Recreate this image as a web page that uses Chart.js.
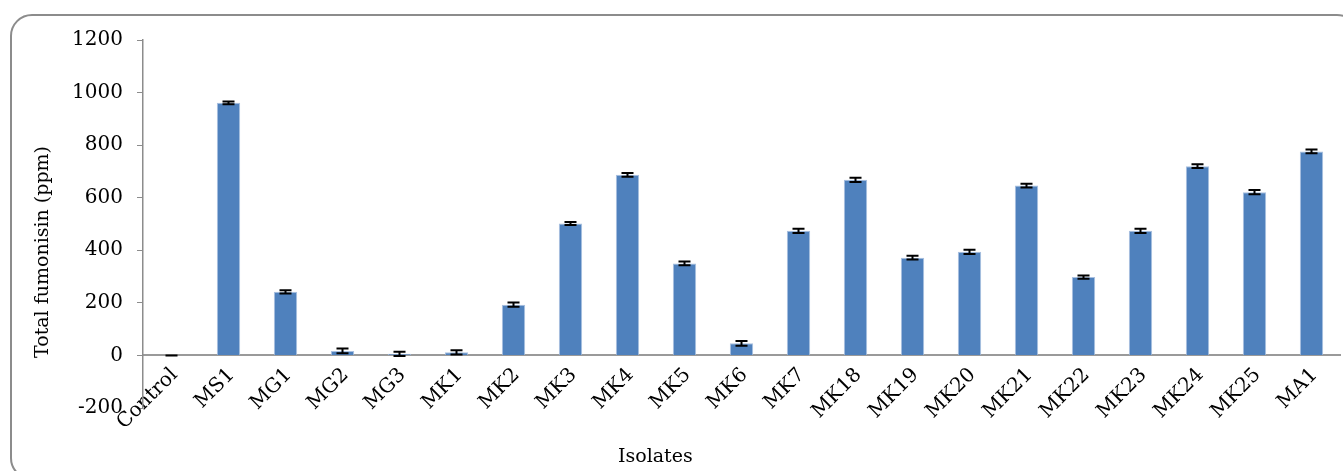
<!DOCTYPE html>
<html>
<head>
<meta charset="utf-8">
<script src="https://cdn.jsdelivr.net/npm/chart.js@4"></script>
<style>
  html, body { margin: 0; padding: 0; background: #fff; overflow: hidden; }
  #wrap { position: relative; width: 1343px; height: 471px; overflow: hidden; }
  #frame {
    position: absolute; left: 10px; top: 14px; width: 1345px; height: 462px;
    border: 2px solid #8c8c8c; border-radius: 22px;
  }
  #chart { position: absolute; left: 0; top: 0; }
  .title { position: absolute; font-family: "DejaVu Serif", serif; font-size: 19px; color: #000; white-space: nowrap; }
  #xtitle { left: 618px; top: 444px; }
  #ytitle { left: 41px; top: 252px; transform: translate(-50%, -50%) rotate(-90deg); }
</style>
</head>
<body>
<div id="wrap">
  <div id="frame"></div>
  <canvas id="chart" width="1343" height="471"></canvas>
  <div class="title" id="xtitle">Isolates</div>
  <div class="title" id="ytitle">Total fumonisin (ppm)</div>
</div>
<script>
  // isolates and measured fumonisin (ppm) with standard error
  const isolates = ["Control", "MS1", "MG1", "MG2", "MG3", "MK1", "MK2", "MK3", "MK4", "MK5", "MK6",
    "MK7", "MK18", "MK19", "MK20", "MK21", "MK22", "MK23", "MK24", "MK25", "MA1"];
  const fumonisin = [0, 961, 242, 17, 6, 12, 193, 502, 687, 350, 46,
    474, 668, 372, 394, 646, 298, 474, 720, 621, 776];
  const errors = [0, 5, 6, 9, 8, 8, 8, 6, 7, 7, 9,
    8, 8, 7, 8, 7, 6, 8, 7, 8, 7];
  const yTicks = [-200, 0, 200, 400, 600, 800, 1000, 1200];

  const serif = "'DejaVu Serif', serif";

  // draws the error bars on top of each bar
  const errorBars = {
    id: "errorBars",
    afterDatasetsDraw(chart) {
      const { ctx, scales: { x, y } } = chart;
      ctx.save();
      ctx.strokeStyle = "#000";
      ctx.lineWidth = 2;
      fumonisin.forEach((v, i) => {
        const cx = x.getPixelForValue(i);
        const top = y.getPixelForValue(v + errors[i]);
        const bot = y.getPixelForValue(v - errors[i]);
        ctx.beginPath();
        ctx.moveTo(cx, top);
        ctx.lineTo(cx, bot);
        ctx.moveTo(cx - 6, top);
        ctx.lineTo(cx + 6, top);
        ctx.moveTo(cx - 6, bot);
        ctx.lineTo(cx + 6, bot);
        ctx.stroke();
      });
      ctx.restore();
    },
  };

  new Chart(document.getElementById("chart"), {
    type: "bar",
    data: {
      labels: isolates,
      datasets: [
        {
          data: fumonisin,
          backgroundColor: "#4F81BD",
          borderColor: "#A9C0E0",
          borderWidth: 1,
          barPercentage: 0.41,
          categoryPercentage: 1,
        },
      ],
    },
    options: {
      responsive: false,
      animation: false,
      layout: { padding: { left: 0, top: 40, right: 3, bottom: 63 } },
      plugins: { legend: { display: false }, tooltip: { enabled: false } },
      scales: {
        x: {
          position: { y: 0 },
          grid: { display: false },
          border: { display: true, color: "#9a9a9a", width: 2 },
          ticks: {
            autoSkip: false,
            minRotation: 45,
            maxRotation: 45,
            color: "#000",
            padding: 0,
            labelOffset: 3,
            font: { family: serif, size: 20 },
          },
          afterFit(scale) { scale.height = 0; },
        },
        y: {
          min: -200,
          max: 1200,
          afterBuildTicks(scale) { scale.ticks = yTicks.map((v) => ({ value: v })); },
          grid: { display: true, drawOnChartArea: false, drawTicks: true, tickLength: 6, color: "#8c8c8c" },
          border: { display: true, color: "#8c8c8c", width: 1.5 },
          ticks: {
            color: "#000",
            padding: 14,
            font: { family: serif, size: 20 },
            callback: (v) => String(v),
          },
          afterFit(scale) { scale.width = 143; },
        },
      },
    },
    plugins: [errorBars],
  });
</script>
</body>
</html>
